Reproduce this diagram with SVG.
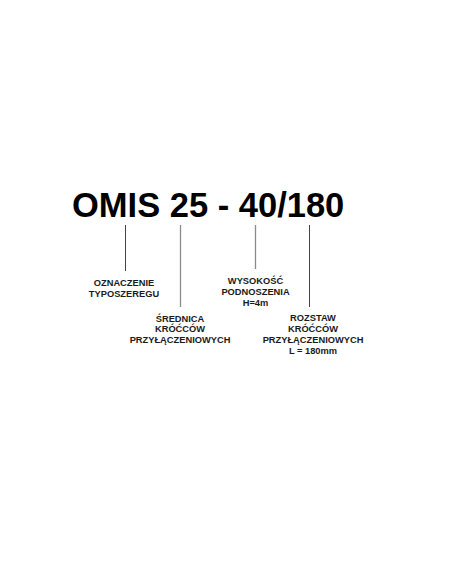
<svg xmlns="http://www.w3.org/2000/svg" width="452" height="584" viewBox="0 0 452 584">
<style>
.title{font-family:"Liberation Sans",Arial,sans-serif;font-weight:bold;font-size:34.5px;fill:#000}
.lbl{font-family:"Liberation Sans",Arial,sans-serif;font-weight:bold;font-size:9.3px;fill:#1a1a1a;text-anchor:middle}
.dark{stroke:#444;stroke-width:1}
.light{stroke:#8a8a8a;stroke-width:1.3}
</style>
<rect width="452" height="584" fill="#fff"/>
<g id="title"><text class="title" x="72" y="216.7">OMIS 25 - 40/180</text></g>
<g id="connectors">
<line class="dark" x1="125.5" y1="225" x2="125.5" y2="271"/>
<line class="light" x1="180.5" y1="225" x2="180.5" y2="307"/>
<line class="light" x1="255.5" y1="225" x2="255.5" y2="269"/>
<line class="dark" x1="309.5" y1="225" x2="309.5" y2="307"/>
</g>
<g id="node-oznaczenie"><text class="lbl" x="124" y="285.7">OZNACZENIE</text><text class="lbl" x="124" y="296.5">TYPOSZEREGU</text></g>
<g id="node-srednica"><text class="lbl" x="180" y="321.5">ŚREDNICA</text><text class="lbl" x="180" y="332.3">KRÓĆCÓW</text><text class="lbl" x="180" y="343.1">PRZYŁĄCZENIOWYCH</text></g>
<g id="node-wysokosc"><text class="lbl" x="255.5" y="284">WYSOKOŚĆ</text><text class="lbl" x="255.5" y="294.8">PODNOSZENIA</text><text class="lbl" x="255.5" y="305.6">H=4m</text></g>
<g id="node-rozstaw"><text class="lbl" x="313" y="321.3">ROZSTAW</text><text class="lbl" x="313" y="332.1">KRÓĆCÓW</text><text class="lbl" x="313" y="342.9">PRZYŁĄCZENIOWYCH</text><text class="lbl" x="313" y="353.7">L = 180mm</text></g>
</svg>
